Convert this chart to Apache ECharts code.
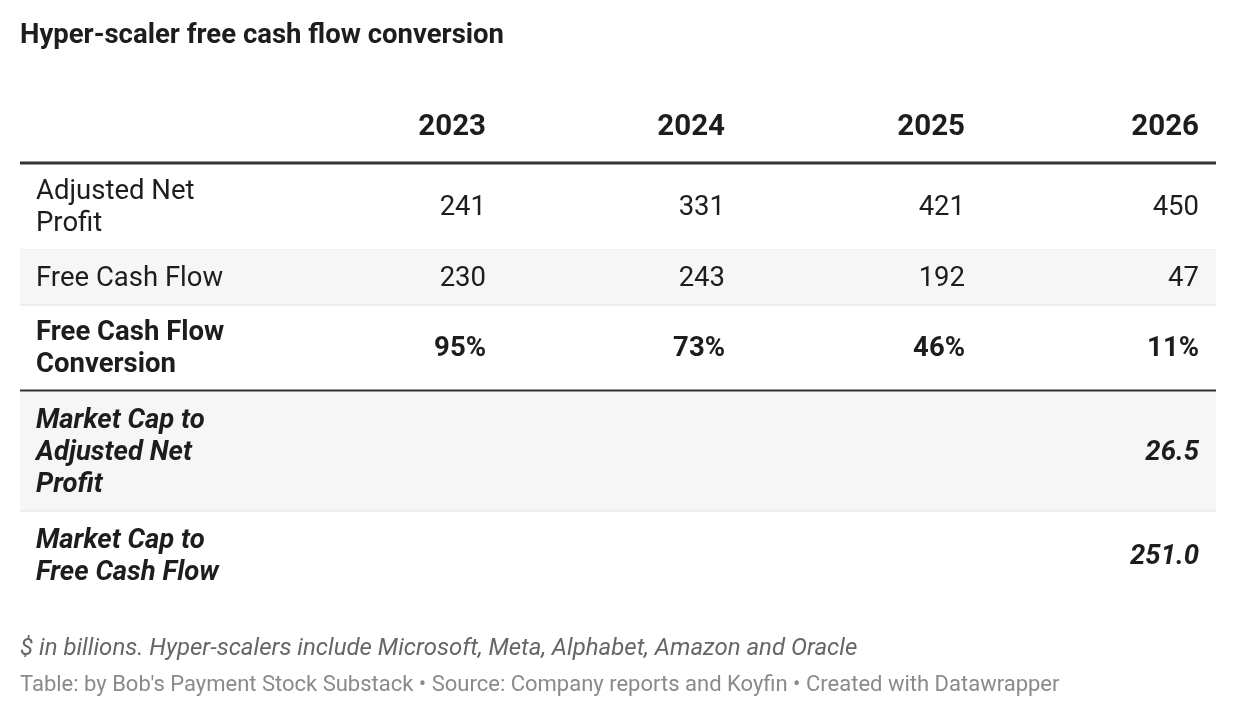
<!DOCTYPE html>
<html><head><meta charset="utf-8">
<script src="https://cdn.jsdelivr.net/npm/echarts@6/dist/echarts.min.js"></script>
<style>html,body{margin:0;background:#fff}#c{width:1236px;height:720px}</style>
</head><body><div id="c"></div>
<script>
const years = ['2023', '2024', '2025', '2026'];
const rowLabels = [
  'Adjusted Net\nProfit',
  'Free Cash Flow',
  'Free Cash Flow\nConversion',
  'Market Cap to\nAdjusted Net\nProfit',
  'Market Cap to\nFree Cash Flow'
];
const rowValues = [
  ['241', '331', '421', '450'],
  ['230', '243', '192', '47'],
  ['95%', '73%', '46%', '11%'],
  ['', '', '', '26.5'],
  ['', '', '', '251.0']
];

const chart = echarts.init(document.getElementById('c'));
const F = 'Roboto, sans-serif';
const colX = [486, 725, 965, 1199];
const rowTop = [163, 250, 305, 391, 511];
const rowBot = [250, 305, 390, 511, 600];
const styles = ['normal', 'normal', 'bold', 'bolditalic', 'bolditalic'];
const els = [];

els.push({type: 'text', left: 20, top: 22, style: {text: 'Hyper-scaler free cash flow conversion', font: 'bold 27.5px ' + F, fill: '#1d1d1d'}});
years.forEach((y, i) => els.push({type: 'text', x: colX[i], y: 128, style: {text: y, font: 'bold 29.5px ' + F, fill: '#1d1d1d', align: 'right', verticalAlign: 'middle'}}));

rowLabels.forEach((lab, r) => {
  const mid = (rowTop[r] + rowBot[r]) / 2 + 2;
  if (r % 2 === 1) els.push({type: 'rect', shape: {x: 20, y: rowTop[r], width: 1196, height: rowBot[r] - rowTop[r]}, style: {fill: '#f6f6f6'}});
  const st = styles[r];
  const font = (st === 'bolditalic' ? 'italic bold ' : st === 'bold' ? 'bold ' : '') + '27.5px ' + F;
  els.push({type: 'text', x: 36, y: mid, style: {text: lab, font: font, fill: '#1d1d1d', verticalAlign: 'middle', lineHeight: 32}});
  rowValues[r].forEach((v, i) => {
    if (v) els.push({type: 'text', x: colX[i], y: mid, style: {text: v, font: font, fill: '#1d1d1d', align: 'right', verticalAlign: 'middle'}});
  });
  if (r < rowLabels.length - 1 && r !== 2) els.push({type: 'line', shape: {x1: 20, y1: rowBot[r], x2: 1216, y2: rowBot[r]}, style: {stroke: '#e2e2e2', lineWidth: 1}});
});
els.push({type: 'line', shape: {x1: 20, y1: 163, x2: 1216, y2: 163}, style: {stroke: '#333', lineWidth: 3}});
els.push({type: 'line', shape: {x1: 20, y1: 390.5, x2: 1216, y2: 390.5}, style: {stroke: '#333', lineWidth: 2}});

els.push({type: 'text', left: 20, top: 637, style: {text: '$ in billions. Hyper-scalers include Microsoft, Meta, Alphabet, Amazon and Oracle', font: 'italic 24px ' + F, fill: '#666'}});
els.push({type: 'text', left: 20, top: 674, style: {text: "Table: by Bob's Payment Stock Substack \u2022 Source: Company reports and Koyfin \u2022 Created with Datawrapper", font: '22px ' + F, fill: '#8a8a8a'}});

chart.setOption({animation: false, graphic: {elements: els}});
</script></body></html>
